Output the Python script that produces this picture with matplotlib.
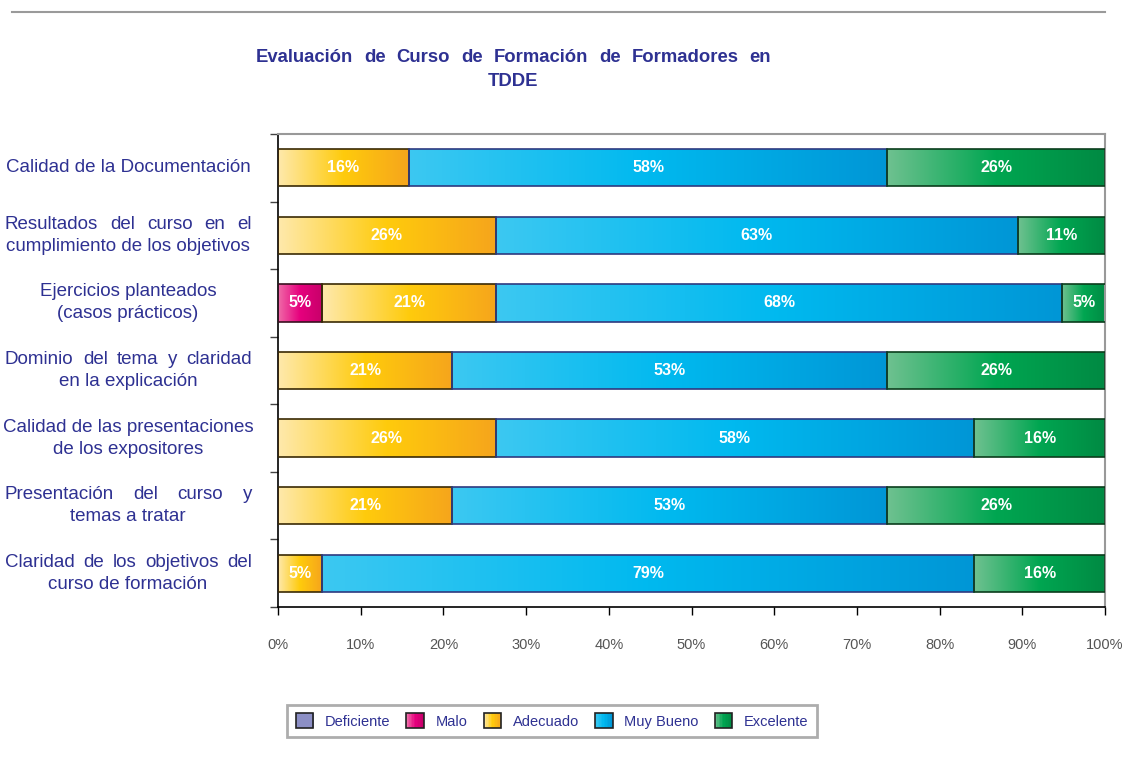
import matplotlib
matplotlib.use("Agg")
import matplotlib.pyplot as plt
import numpy as np
from matplotlib.colors import LinearSegmentedColormap
from matplotlib.patches import Rectangle
from matplotlib.legend_handler import HandlerBase
from matplotlib.lines import Line2D
import matplotlib.transforms as mtransforms

plt.rcParams['font.family'] = ['Liberation Sans', 'DejaVu Sans']

# data (percent of answers)
categories = [
    ["Calidad de la Documentación"],
    ["Resultados del curso en el", "cumplimiento de los objetivos"],
    ["Ejercicios planteados", "(casos prácticos)"],
    ["Dominio del tema y claridad", "en la explicación"],
    ["Calidad de las presentaciones", "de los expositores"],
    ["Presentación del curso y", "temas a tratar"],
    ["Claridad de los objetivos del", "curso de formación"],
]
# first line spread over the full label width?
justify_first = [False, True, False, True, False, True, True]
deficiente = [0, 0, 0, 0, 0, 0, 0]
malo = [0, 0, 5.3, 0, 0, 0, 0]
adecuado = [15.8, 26.3, 21.1, 21.1, 26.3, 21.1, 5.3]
muy_bueno = [57.9, 63.2, 68.4, 52.6, 57.9, 52.6, 78.9]
excelente = [26.3, 10.5, 5.3, 26.3, 15.8, 26.3, 15.8]
series_names = ["Deficiente", "Malo", "Adecuado", "Muy Bueno", "Excelente"]
x_ticks = np.arange(0, 101, 10)

series = [deficiente, malo, adecuado, muy_bueno, excelente]
grads = [
    ['#8c8fc5', '#8c8fc5'],
    ['#f06ba8', '#e6007e', '#c8006a'],
    ['#fee9ac', '#ffcb0c', '#f6a51c'],
    ['#3cc8f2', '#00b9ef', '#0096d6'],
    ['#6fc190', '#00a651', '#008a43'],
]
edges = ['#222244', '#3a1020', '#3a2a05', '#2e3a80', '#0b3d1c']
navy = '#2e3192'

W, H = 1125, 771
fig = plt.figure(figsize=(W / 100, H / 100), dpi=100)
ax = fig.add_axes([278 / W, 1 - 607 / H, (1105 - 278) / W, (607 - 134) / H])

ypos = np.arange(len(categories))
bar_h = 0.55
grad = np.linspace(0, 1, 256).reshape(1, -1)
left = np.zeros(len(categories))
for vals, cols, ec in zip(series, grads, edges):
    cmap = LinearSegmentedColormap.from_list('g', cols)
    bars = ax.barh(ypos, vals, left=left, height=bar_h, facecolor='none',
                   edgecolor=ec, linewidth=1.2, zorder=3)
    for b, v, l, y in zip(bars, vals, left, ypos):
        if v <= 0:
            continue
        im = ax.imshow(grad, cmap=cmap, aspect='auto', zorder=2,
                       extent=(l, l + v, y + bar_h / 2, y - bar_h / 2))
        im.set_clip_path(b)
        ax.text(l + v / 2, y, f"{int(v + 0.5)}%", ha='center', va='center',
                color='white', fontsize=11.5, fontweight='bold', zorder=4)
    left = left + np.array(vals)

ax.set_xlim(0, 100)
ax.set_ylim(len(categories) - 0.5, -0.5)
ax.set_xticks(x_ticks)
ax.set_xticklabels([f"{t}%" for t in x_ticks], color='#555555', fontsize=10.5)
ax.tick_params(axis='x', direction='out', length=6, width=1, pad=16)
ax.set_yticks(np.arange(len(categories) + 1) - 0.5)
ax.set_yticklabels([])
ax.tick_params(axis='y', direction='out', length=6, width=1, color='#444444')
for s in ['top', 'right']:
    ax.spines[s].set_color('#999999')
    ax.spines[s].set_linewidth(1.5)
ax.spines['left'].set_linewidth(1.2)
ax.spines['bottom'].set_linewidth(1.2)

renderer = fig.canvas.get_renderer()


def justified(words, x0, x1, y, trans, **kw):
    # spread the words of one line evenly between x0 and x1 (pixels)
    texts = [fig.text(0, y, w, transform=trans, **kw) for w in words]
    widths = [t.get_window_extent(renderer).width for t in texts]
    gap = (x1 - x0 - sum(widths)) / (len(words) - 1)
    x = x0
    for t, w in zip(texts, widths):
        t.set_x(x / W)
        x += w + gap


# category labels
blend = mtransforms.blended_transform_factory(fig.transFigure, ax.transData)
lab_kw = dict(color=navy, fontsize=13.5, va='center')
for y, lines, jf in zip(ypos, categories, justify_first):
    n = len(lines)
    for i, line in enumerate(lines):
        dy = (i - (n - 1) / 2) * 22
        tr = mtransforms.offset_copy(blend, fig=fig, y=-dy, units='dots')
        if jf and i == 0:
            justified(line.split(), 5, 252, y, tr, ha='left', **lab_kw)
        else:
            fig.text(128 / W, y, line, transform=tr, ha='center', **lab_kw)

# title
title_kw = dict(color=navy, fontsize=13.3, fontweight='bold', va='center')
justified("Evaluación de Curso de Formación de Formadores en".split(), 256, 771,
          1 - 58 / H, fig.transFigure, ha='left', **title_kw)
fig.text(513 / W, 1 - 82 / H, "TDDE", ha='center', **title_kw)

# top rule
fig.add_artist(Line2D([12 / W, 1105 / W], [1 - 12 / H, 1 - 12 / H],
                      transform=fig.transFigure, color='#9a9a9a', linewidth=1.5))


class GradHandler(HandlerBase):
    def __init__(self, cols, ec):
        super().__init__()
        self.cols, self.ec = cols, ec

    def create_artists(self, legend, orig, xd, yd, width, height, fontsize, trans):
        cmap = LinearSegmentedColormap.from_list('g', self.cols)
        n = 12
        arts = []
        for k in range(n):
            arts.append(Rectangle((-xd + width * k / n, -yd), width / n + 0.3, height,
                                  facecolor=cmap(k / (n - 1)), edgecolor='none',
                                  transform=trans))
        arts.append(Rectangle((-xd, -yd), width, height, facecolor='none',
                              edgecolor=self.ec, linewidth=1.2, transform=trans))
        return arts


handles = [Rectangle((0, 0), 1, 1) for _ in series_names]
hmap = {h: GradHandler(c, '#222222') for h, c in zip(handles, grads)}
leg = fig.legend(handles, series_names, handler_map=hmap, ncol=5,
                 loc='center', bbox_to_anchor=(552 / W, 1 - 721 / H),
                 fontsize=10.5, handlelength=1.2, handleheight=1.2,
                 handletextpad=0.8, columnspacing=1.1, borderpad=0.6,
                 fancybox=False, frameon=True)
leg.get_frame().set_edgecolor('#999999')
leg.get_frame().set_linewidth(2)
for t in leg.get_texts():
    t.set_color(navy)

fig.savefig("out.png", dpi=100)
